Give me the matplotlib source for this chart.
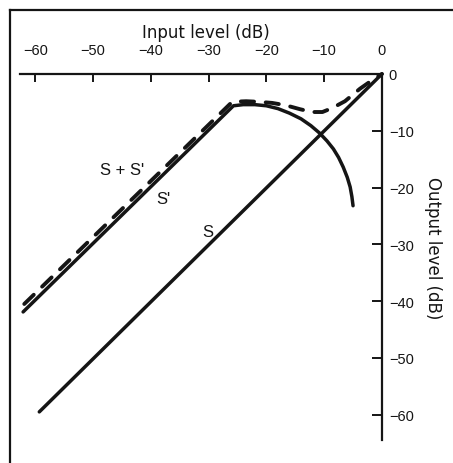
import matplotlib
matplotlib.use("Agg")
import matplotlib.pyplot as plt
from matplotlib.lines import Line2D

plt.rcParams['font.family'] = ['Liberation Sans', 'DejaVu Sans']

# ---- data (dB) ----
x_ticks = [-60, -50, -40, -30, -20, -10, 0]
y_ticks = [0, -10, -20, -30, -40, -50, -60]
x_ticklabels = ['\u221260', '\u221250', '\u221240', '\u221230', '\u221220', '\u221210', '0']
y_ticklabels = ['0', '\u221210', '\u221220', '\u221230', '\u221240', '\u221250', '\u221260']

# S : straight line, unity slope
s_in = [-59.3, 0.0]
s_out = [-59.5, 0.0]

# S' : straight part then circular roll-off
sp_in = [-62.1, -25.7, -24.0, -22.0, -20.0, -18.0, -16.0, -14.0, -12.3, -10.8,
         -9.5, -8.4, -7.5, -6.7, -6.0, -5.5, -5.2, -5.0]
sp_out = [-41.9, -5.6, -5.4, -5.4, -5.6, -6.1, -6.9, -7.9, -9.1, -10.4,
          -11.8, -13.2, -14.7, -16.4, -18.2, -19.9, -21.6, -23.2]

# S + S' : dashed curve
ss_in = [-61.9, -25.9, -23.5, -21.4, -19.0, -16.7, -14.2, -12.1, -10.3, -8.6,
         -6.4, -3.8, -1.7, 0.0]
ss_out = [-40.5, -4.9, -4.8, -4.9, -5.1, -5.5, -6.2, -6.7, -6.7, -6.0,
          -4.8, -2.6, -1.1, 0.0]

labels = ["S + S'", "S'", "S"]
label_pos = [(-44.9, -16.9), (-37.9, -22.0), (-30.1, -27.8)]

ink = '#151515'

fig = plt.figure(figsize=(4.53, 4.64), dpi=100)
fig.patch.set_facecolor('white')
ax = fig.add_axes([0, 0, 1, 1])
ax.set_facecolor('none')
ax.set_xlim(-66.1, 12.3)
ax.set_ylim(-68.5, 13.2)

ax.plot(s_in, s_out, color=ink, lw=2.5, solid_capstyle='round')
ax.plot(sp_in, sp_out, color=ink, lw=2.5, solid_capstyle='round', solid_joinstyle='round')
ax.plot(ss_in, ss_out, color=ink, lw=2.8, dashes=(3.4, 3.0), dash_capstyle='round',
        dash_joinstyle='round')

for t, (px, py) in zip(labels, label_pos):
    ax.text(px, py, t, ha='center', va='center', fontsize=12, color=ink)

# axes: top spine = input axis, right spine = output axis
for side in ['left', 'bottom']:
    ax.spines[side].set_visible(False)
ax.spines['top'].set_position(('data', 0))
ax.spines['top'].set_bounds(-62.6, 0)
ax.spines['right'].set_position(('data', 0))
ax.spines['right'].set_bounds(-64.4, 0)
for side in ['top', 'right']:
    ax.spines[side].set_linewidth(1.6)
    ax.spines[side].set_color(ink)

ax.xaxis.set_ticks_position('top')
ax.xaxis.set_label_position('top')
ax.yaxis.set_ticks_position('right')
ax.yaxis.set_label_position('right')
ax.set_xticks(x_ticks)
ax.set_xticklabels(x_ticklabels)
ax.set_yticks(y_ticks)
ax.set_yticklabels(y_ticklabels)
ax.tick_params(axis='x', direction='in', length=6, width=1.4, pad=12,
               labelsize=10.5, colors=ink)
ax.tick_params(axis='y', direction='in', length=7.5, width=1.4, pad=5,
               labelsize=10.5, colors=ink)

ax.set_xlabel('Input level (dB)', fontsize=12, color=ink, family='DejaVu Sans')
ax.xaxis.set_label_coords(-30.4, 7.4, transform=ax.transData)
ax.xaxis.label.set_va('center')
ax.set_ylabel('Output level (dB)', fontsize=12, color=ink, rotation=-90,
              family='DejaVu Sans')
ax.yaxis.set_label_coords(8.8, -30.5, transform=ax.transData)
ax.yaxis.label.set_va('center')

# frame lines (figure border, left and top)
fig.add_artist(Line2D([10 / 453, 10 / 453], [0, 1 - 11 / 464],
                      transform=fig.transFigure, color=ink, lw=1.6))
fig.add_artist(Line2D([10 / 453, 1], [1 - 11 / 464, 1 - 11 / 464],
                      transform=fig.transFigure, color=ink, lw=1.6))

fig.savefig('out.png', dpi=100, facecolor='white')
